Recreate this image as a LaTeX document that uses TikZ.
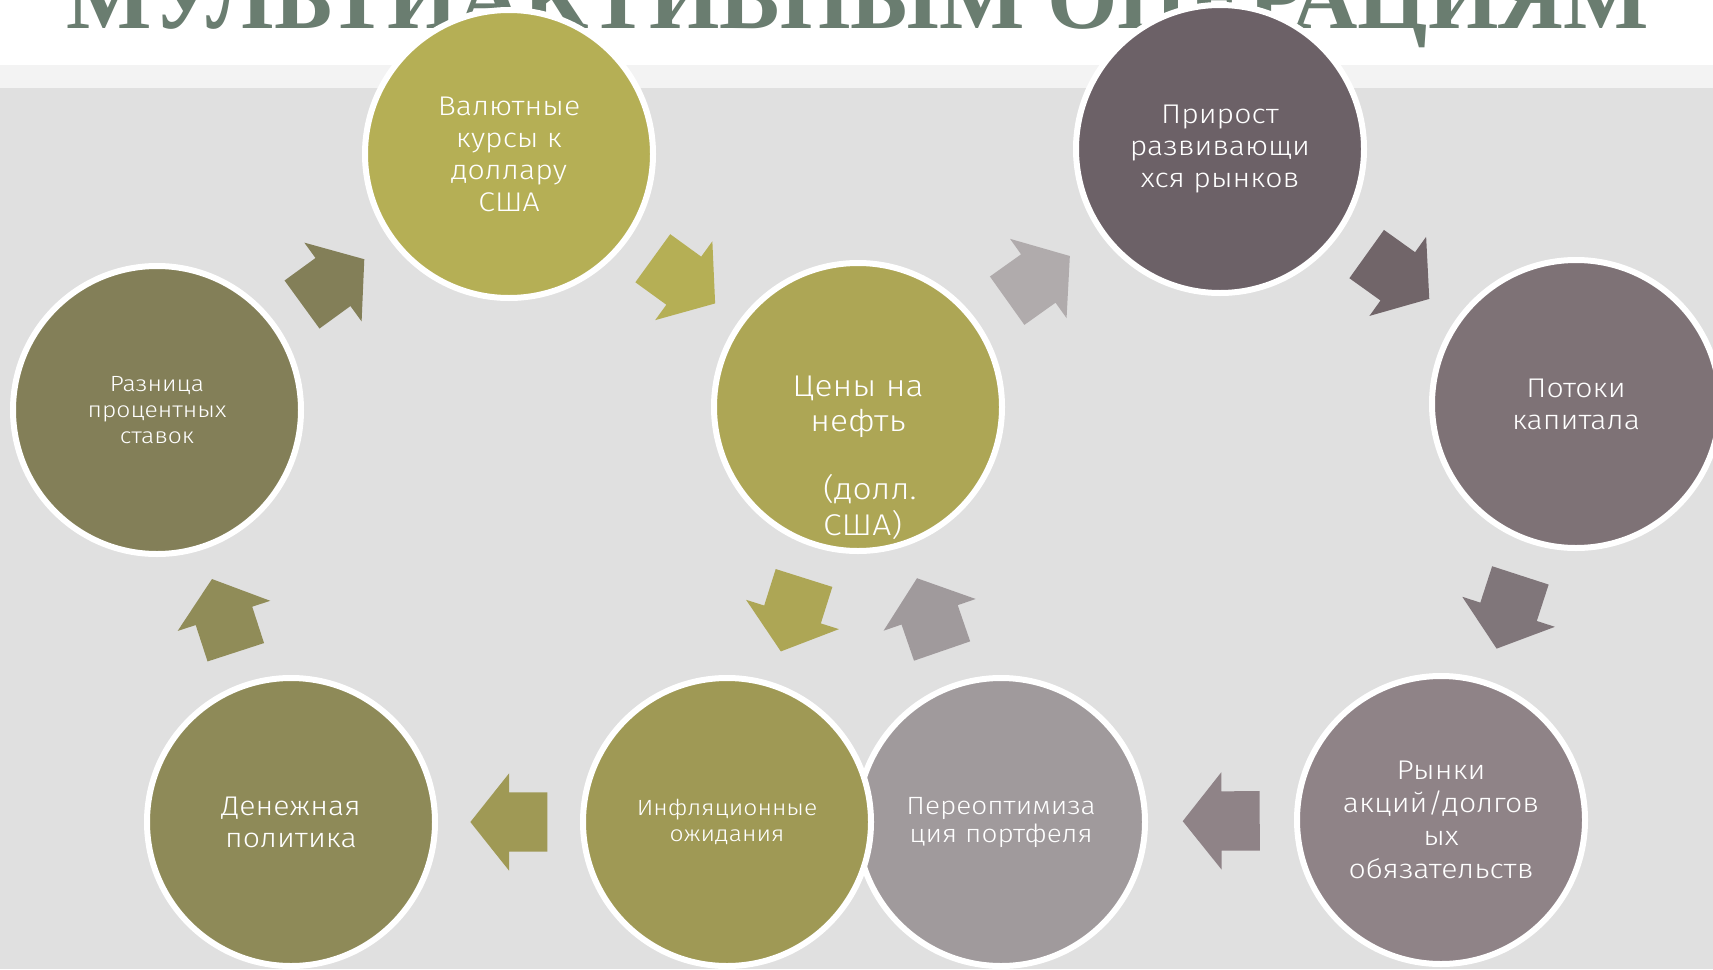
\documentclass[tikz,border=0pt]{standalone}
\usepackage{fontspec}
\usetikzlibrary{shapes.arrows}
\newfontfamily\cg{Fira Sans Light}[FakeStretch=1.12]
\newfontfamily\tf{Liberation Serif}
\definecolor{bggray}{HTML}{E0E0E0}
\definecolor{stripc}{HTML}{F3F3F3}
\definecolor{titlec}{HTML}{6A7D70}
\definecolor{cV}{HTML}{B5AF55}
\definecolor{cC}{HTML}{ADA655}
\definecolor{cR}{HTML}{837F58}
\definecolor{cD}{HTML}{8E8A58}
\definecolor{cI}{HTML}{9F9955}
\definecolor{cO}{HTML}{A09A9C}
\definecolor{cM}{HTML}{8F8387}
\definecolor{cK}{HTML}{7E7276}
\definecolor{cP}{HTML}{6C6167}
\definecolor{aCP}{HTML}{B0ABAC}
\definecolor{aPK}{HTML}{716569}
\definecolor{aKM}{HTML}{80767A}
\definecolor{aDR}{HTML}{908C58}
\begin{document}
\begin{tikzpicture}[x=1pt,y=-1pt,
  bub/.style={circle, minimum size=288pt, inner sep=0pt, draw=white, line width=6pt, text=white, align=center},
  fbig/.style={font=\cg\fontsize{27}{32}\selectfont},
  fmid/.style={font=\cg\fontsize{25}{28}\selectfont},
  fsmall/.style={font=\cg\fontsize{22}{26}\selectfont},
  barrow/.style={single arrow, minimum height=77pt, single arrow head extend=19pt, single arrow tip angle=103, inner xsep=0pt, inner ysep=29.5pt, outer sep=0pt, draw=none, sloped, allow upside down, anchor=tail, pos=0.412},
  titlestyle/.style={font=\tf\bfseries\fontsize{90.5}{90}\selectfont, text=titlec, anchor=base, inner sep=0pt}
]
\useasboundingbox (0,0) rectangle (1713,969);
\clip (0,0) rectangle (1713,969);
\fill[bggray] (0,0) rectangle (1713,969);
\fill[white] (0,0) rectangle (1713,65);
\fill[stripc] (0,65) rectangle (1713,88);
\node[titlestyle] (T) at (858,28) {МУЛЬТИАКТИВНЫМ ОПЕРАЦИЯМ};

\node[bub, fill=cV, fbig] (V) at (509,154) {Валютные\\курсы к\\доллару\\США};
\node[bub, fill=cP, fbig] (P) at (1220,149) {Прирост\\развивающи\\хся рынков};
\node[bub, fill=cR, fsmall] (R) at (157,410) {Разница\\процентных\\ставок};
\node[bub, fill=cC, font=\cg\fontsize{30}{35}\selectfont] (C) at (858,407) {Цены на\\нефть};
\node[text=white, align=left, inner sep=0pt, anchor=west, font=\cg\fontsize{30}{36}\selectfont] (Cu) at (823,507) {(долл.\\США)};
\node[bub, fill=cK, fbig] (K) at (1576,404) {Потоки\\капитала};
\node[bub, fill=cD, fbig] (D) at (291,822) {Денежная\\политика};
\node[bub, fill=cO, fmid] (O) at (1001,822) {Переоптимиза\\ция портфеля};
\node[bub, fill=cI, fsmall] (I) at (727,822) {Инфляционные\\ожидания};
\node[bub, fill=cM, font=\cg\fontsize{27}{33}\selectfont] (M) at (1441,820) {Рынки\\акций/долгов\\ых\\обязательств};

\path (R.center) -- node[barrow, fill=cR] (a1) {} (V.center);
\path (V.center) -- node[barrow, fill=cV] (a2) {} (C.center);
\path (C.center) -- node[barrow, fill=aCP] (a3) {} (P.center);
\path (P.center) -- node[barrow, fill=aPK] (a4) {} (K.center);
\path (K.center) -- node[barrow, fill=aKM] (a5) {} (M.center);
\path (M.center) -- node[barrow, fill=cM] (a6) {} (O.center);
\path (I.center) -- node[barrow, fill=cI] (a7) {} (D.center);
\path (D.center) -- node[barrow, fill=aDR] (a8) {} (R.center);
\path (C.center) -- node[barrow, fill=cC] (a9) {} (I.center);
\path (O.center) -- node[barrow, fill=cO] (a10) {} (C.center);
\end{tikzpicture}
\end{document}
